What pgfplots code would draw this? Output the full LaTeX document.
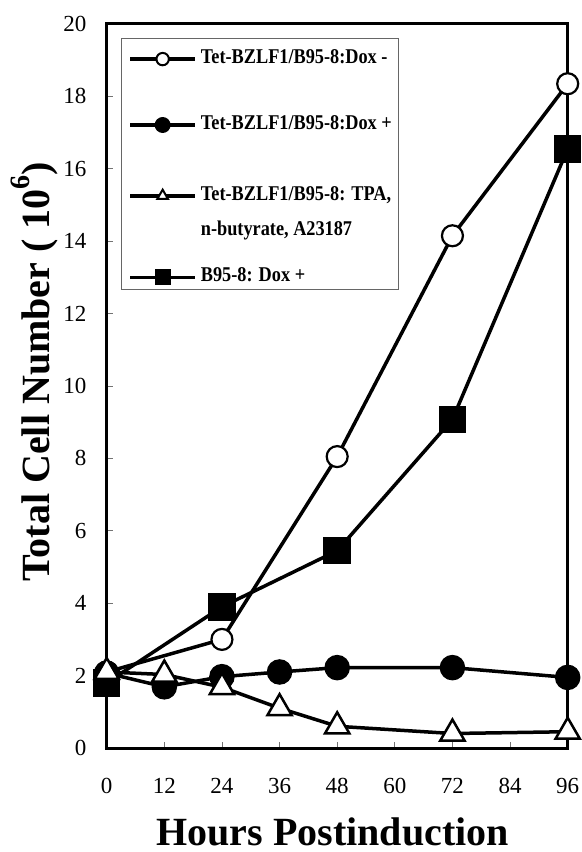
\documentclass[border=0pt]{standalone}
\usepackage{fontspec}
\setmainfont{Liberation Serif}
\newfontfamily\legfont{Liberation Serif}[FakeStretch=0.87]
\usepackage{pgfplots}
\pgfplotsset{compat=1.18}

\begin{document}
\begin{tikzpicture}
\begin{axis}[
  scale only axis, width=461bp, height=724bp,
  xmin=0, xmax=96, ymin=0, ymax=20,
  xtick={0,12,...,96}, ytick={0,2,...,20},
  tick align=inside, xtick pos=bottom, ytick pos=left,
  major tick length=6bp,
  tick style={black!55, line width=0.8bp},
  axis line style={line width=3bp},
  clip=false,
  /pgf/number format/assume math mode=true,
  tick label style={font=\fontsize{23bp}{27bp}\selectfont},
  xticklabel style={anchor=base, yshift=-45bp},
  yticklabel style={anchor=east, xshift=-20bp, inner sep=0pt},
  xlabel={Hours Postinduction},
  xlabel style={at={(axis description cs:0.49,-0.134)}, anchor=base, inner sep=0pt, font=\bfseries\fontsize{40bp}{44bp}\selectfont},
  ylabel={Total Cell Number ( 10\raisebox{0.5em}{\fontsize{28bp}{28bp}\selectfont 6})},
  ylabel style={at={(axis description cs:-0.123,0.52)}, anchor=base, inner sep=0pt, font=\bfseries\fontsize{40bp}{44bp}\selectfont},
  legend style={at={(axis description cs:0,1)}, anchor=north west, xshift=14.3bp, yshift=-14bp,
    draw=black!60, line width=0.8bp, inner xsep=7bp, inner ysep=6bp,
    font=\legfont\bfseries\fontsize{21bp}{25bp}\selectfont,
    nodes={inner sep=0pt}, column sep=4bp, row sep=0pt, cells={anchor=base west}},
  legend image code/.code={\draw[mark repeat=2, mark phase=2, yshift=4.3bp, #1] plot coordinates {(0bp,0bp) (32.5bp,0bp) (65bp,0bp)};},
  legend image post style={mark size=6.2bp},
]
% legend entries
\addlegendimage{black, line width=3.5bp, mark=*, mark options={fill=white, draw=black, line width=2bp}}
\addlegendentry{\rule{0pt}{19bp}Tet-BZLF1/B95-8:Dox -}
\addlegendimage{black, line width=3.5bp, mark=*, mark options={fill=black}}
\addlegendentry{\rule{0pt}{64bp}Tet-BZLF1/B95-8:Dox +}
\addlegendimage{black, line width=3.5bp, mark=triangle*, mark options={fill=white, draw=black, line width=2bp}}
\addlegendentry{\vtop{\baselineskip=35bp \hbox{\rule{0pt}{69bp}Tet-BZLF1/B95-8: TPA,}\hbox{n-butyrate, A23187}}}
\addlegendimage{black, line width=3.5bp, mark=square*, mark options={fill=black}}
\addlegendentry{\rule{0pt}{80bp}B95-8: Dox +}

% Dox -
\addplot[black, line width=3.5bp, mark=*, mark size=10.5bp, mark options={fill=white, draw=black, line width=2.2bp}, forget plot]
  coordinates {(0,2.1) (24,3.0) (48,8.05) (72,14.15) (96,18.35)};
% Dox +
\addplot[black, line width=3.5bp, mark=*, mark size=11bp, mark options={fill=black}, forget plot]
  coordinates {(0,2.07) (12,1.69) (24,1.97) (36,2.1) (48,2.22) (72,2.22) (96,1.95)};
% B95-8 Dox +
\addplot[black, line width=3.5bp, mark=square*, mark size=12bp, mark options={fill=black}, forget plot]
  coordinates {(0,1.8) (24,3.9) (48,5.45) (72,9.08) (96,16.55)};
% TPA, n-butyrate, A23187
\addplot[black, line width=3.5bp, mark=triangle*, mark size=14bp, mark options={fill=white, draw=black, line width=2.5bp}, forget plot]
  coordinates {(0,2.1) (12,2.03) (24,1.68) (36,1.1) (48,0.6) (72,0.4) (96,0.45)};
\end{axis}
\pgfresetboundingbox
\path (-106.7bp,-104bp) rectangle (475.3bp,748bp);
\end{tikzpicture}
\end{document}
